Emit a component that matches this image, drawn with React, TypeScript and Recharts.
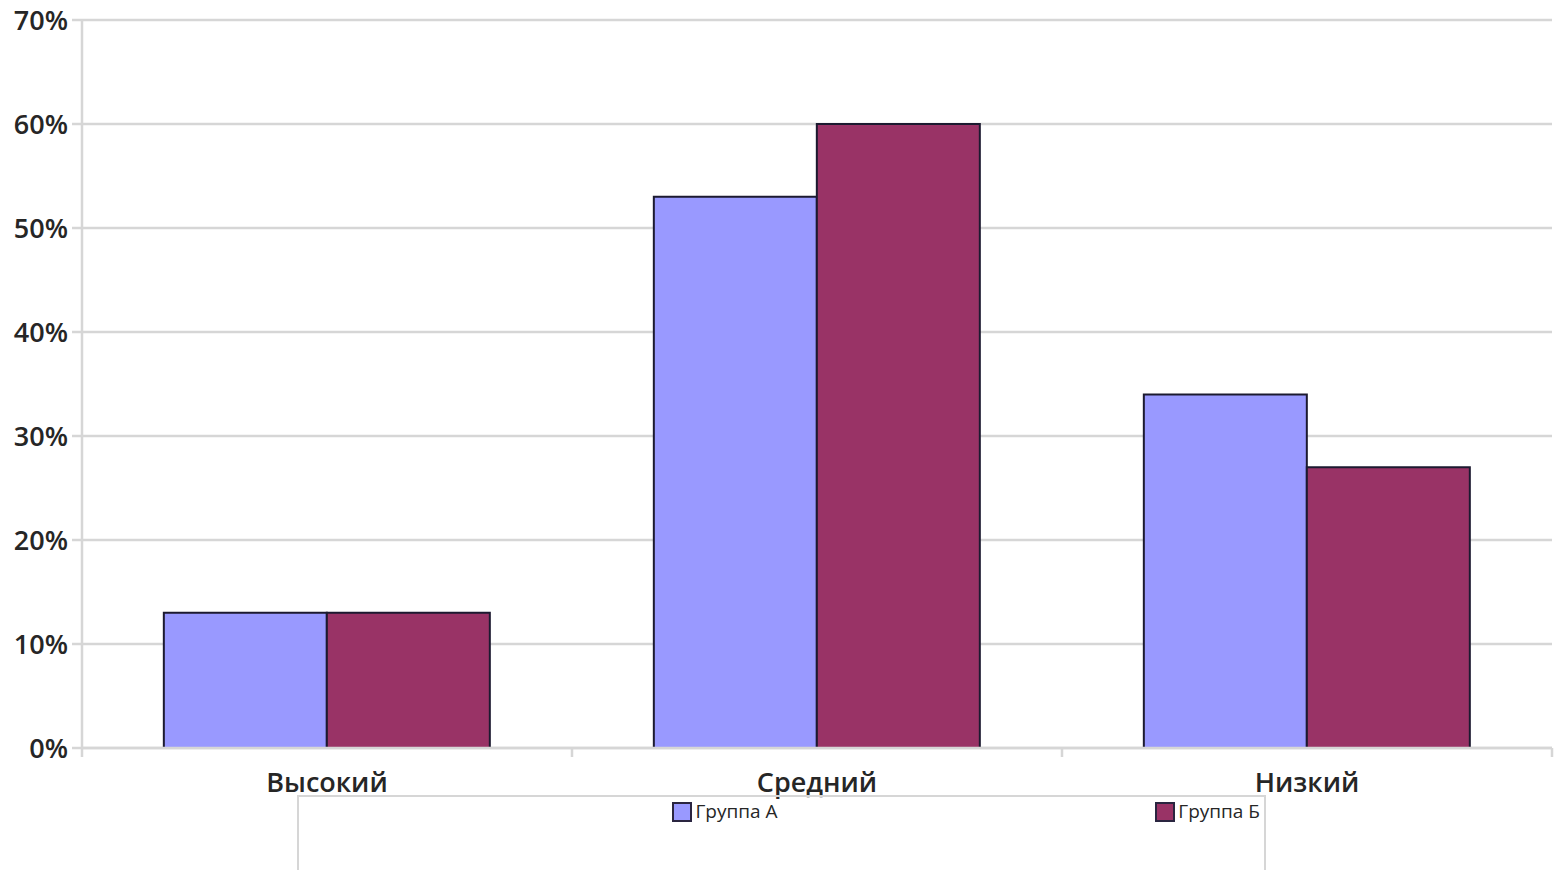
import React from 'react';
import { Bar, BarChart, CartesianGrid, Legend, XAxis, YAxis } from 'recharts';

const levels = ['Высокий', 'Средний', 'Низкий'];
const groupA = [13, 53, 34];
const groupB = [13, 60, 27];
const yTicks = [0, 10, 20, 30, 40, 50, 60, 70];

const SERIES = [
	{ key: 'a', name: 'Группа А', color: '#9999ff' },
	{ key: 'b', name: 'Группа Б', color: '#993366' }
];

const data = levels.map((level, i) => ({ level, a: groupA[i], b: groupB[i] }));

const CHART_W = 1556;
const CHART_H = 870;
const MARGIN = { top: 20, right: 4, left: 0, bottom: 75 };
const Y_AXIS_W = 82;
const X_TICK_MARGIN = 25;
const X_TICK_LEN = 9;

const GRID = '#d6d6d6';
const TEXT = '#262626';
const FONT = '"Open Sans", "DejaVu Sans", sans-serif';

// category label plus small tick marks on the band boundaries
const CategoryTick = (props: any) => {
	const { x, y, payload, index, visibleTicksCount } = props;
	const count = visibleTicksCount || levels.length;
	const plotW = typeof props.width === 'number' && props.width > 0 ? props.width : CHART_W - MARGIN.left - MARGIN.right - Y_AXIS_W;
	const band = plotW / count;
	const axisY = y - X_TICK_MARGIN;
	const edges = [x - band / 2];
	if (index === count - 1) edges.push(x + band / 2);
	return (
		<g>
			{edges.map((ex, i) => (
				<line key={i} x1={ex} x2={ex} y1={axisY} y2={axisY + X_TICK_LEN} stroke={GRID} strokeWidth={2.5} />
			))}
			<text x={x} y={y} dy="0.71em" textAnchor="middle" fill={TEXT} fontSize={27} fontFamily={FONT} fontWeight={600}>
				{payload.value}
			</text>
		</g>
	);
};

const LegendBox = () => (
	<div
		style={{
			display: 'flex',
			width: '100%',
			height: '100%',
			boxSizing: 'border-box',
			borderTop: `2px solid ${GRID}`,
			borderLeft: `2px solid ${GRID}`,
			borderRight: `2px solid ${GRID}`,
			fontFamily: FONT,
			fontSize: 19,
			color: TEXT
		}}
	>
		{SERIES.map(s => (
			<div key={s.key} style={{ flex: 1, display: 'flex', justifyContent: 'flex-end', alignItems: 'flex-start', paddingTop: 4, paddingRight: 4 }}>
				<span style={{ width: 16, height: 16, background: s.color, border: '2px solid #2a2540', marginRight: 3, marginTop: 1 }} />
				<span style={{ lineHeight: '20px' }}>{s.name}</span>
			</div>
		))}
	</div>
);

export default function App() {
	return (
		<div style={{ position: 'absolute', left: 0, top: 0, width: CHART_W, height: CHART_H, background: '#fff' }}>
			<BarChart width={CHART_W} height={CHART_H} data={data} margin={MARGIN} barCategoryGap="16.7%" barGap={0}>
				<CartesianGrid vertical={false} stroke={GRID} strokeWidth={2.5} />
				<XAxis
					dataKey="level"
					tick={<CategoryTick />}
					axisLine={{ stroke: GRID, strokeWidth: 2.5 }}
					tickLine={false}
					tickSize={0}
					tickMargin={X_TICK_MARGIN}
					height={47}
				/>
				<YAxis
					domain={[0, 70]}
					ticks={yTicks}
					tickFormatter={(v: number) => `${v}%`}
					tick={{ fontSize: 27, fill: TEXT, fontFamily: FONT, fontWeight: 600 }}
					axisLine={{ stroke: GRID, strokeWidth: 2.5 }}
					tickLine={{ stroke: GRID, strokeWidth: 2.5 }}
					tickSize={10}
					tickMargin={4}
					width={Y_AXIS_W}
				/>
				<Legend
					layout="horizontal"
					verticalAlign="middle"
					align="center"
					content={<LegendBox />}
					wrapperStyle={{ position: 'absolute', left: 297, top: 795, width: 969, height: 75 }}
				/>
				{SERIES.map(s => (
					<Bar key={s.key} dataKey={s.key} name={s.name} fill={s.color} stroke="#1c1a30" strokeWidth={2} isAnimationActive={false} />
				))}
			</BarChart>
		</div>
	);
}
